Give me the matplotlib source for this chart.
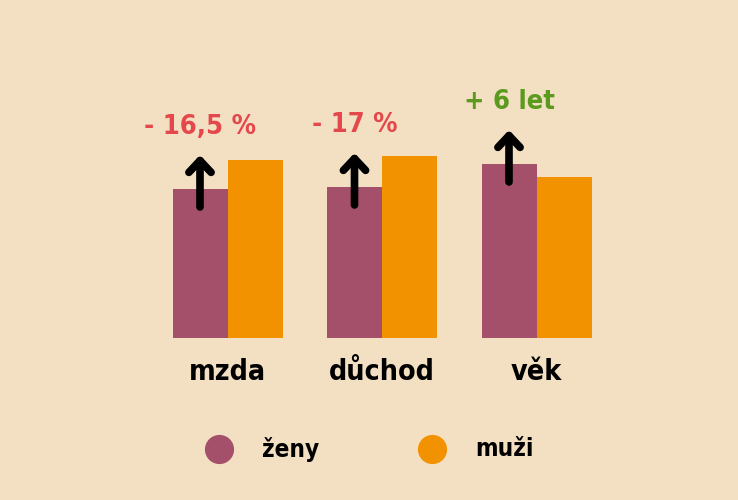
import matplotlib
matplotlib.use("Agg")
import matplotlib.pyplot as plt
from matplotlib.lines import Line2D

categories = ["mzda", "důchod", "věk"]
zeny = [149, 151, 174]
muzi = [178, 182, 161]
annotations = ["- 16,5 %", "- 17 %", "+ 6 let"]
annot_colors = ["#E4474C", "#E4474C", "#5B9A1E"]
legend_labels = ["ženy", "muži"]

BG = "#F3E0C2"
C_Z = "#A5506B"
C_M = "#F39200"

plt.rcParams['font.family'] = ['DejaVu Sans']

fig = plt.figure(figsize=(7.38, 5.0), dpi=100, facecolor=BG)
ax = fig.add_axes([73/738, 162/500, 618/738, 300/500])
ax.set_facecolor(BG)
ax.set_xlim(-1, 3)
ax.set_ylim(0, 300)
for s in ax.spines.values():
    s.set_visible(False)
ax.set_xticks([])
ax.set_yticks([])

w = 55/154.5
x = list(range(len(categories)))
ax.bar([i - w/2 for i in x], zeny, width=w, color=C_Z)
ax.bar([i + w/2 for i in x], muzi, width=w, color=C_M)

for i, (v, txt, c) in enumerate(zip(zeny, annotations, annot_colors)):
    xi = i - w/2
    ax.annotate("", xy=(xi, v + 34), xytext=(xi, v - 18),
                arrowprops=dict(arrowstyle="->,head_length=0.85,head_width=0.8",
                                color="black", lw=5.5, capstyle="round",
                                joinstyle="round", shrinkA=0, shrinkB=0))
    ax.text(xi, v + 62, txt, ha="center", va="center", color=c,
            fontsize=19.5, fontweight="bold", fontstretch="condensed")

for i, cat in enumerate(categories):
    fig.text((73 + (i + 1) * 154.5) / 738, 1 - 372/500, cat, ha="center", va="center",
             fontsize=20.5, fontweight="bold", fontstretch="condensed", color="black")

for (cx, tx, lab, col) in [(219, 262, legend_labels[0], C_Z), (432, 475, legend_labels[1], C_M)]:
    fig.add_artist(Line2D([cx/738], [1 - 449/500], marker="o", markersize=20,
                          color=col, transform=fig.transFigure, linestyle="none"))
    fig.text(tx/738, 1 - 449/500, lab, ha="left", va="center", fontsize=17.5,
             fontweight="bold", fontstretch="condensed", color="black")

fig.savefig("out.png", dpi=100, facecolor=BG)
